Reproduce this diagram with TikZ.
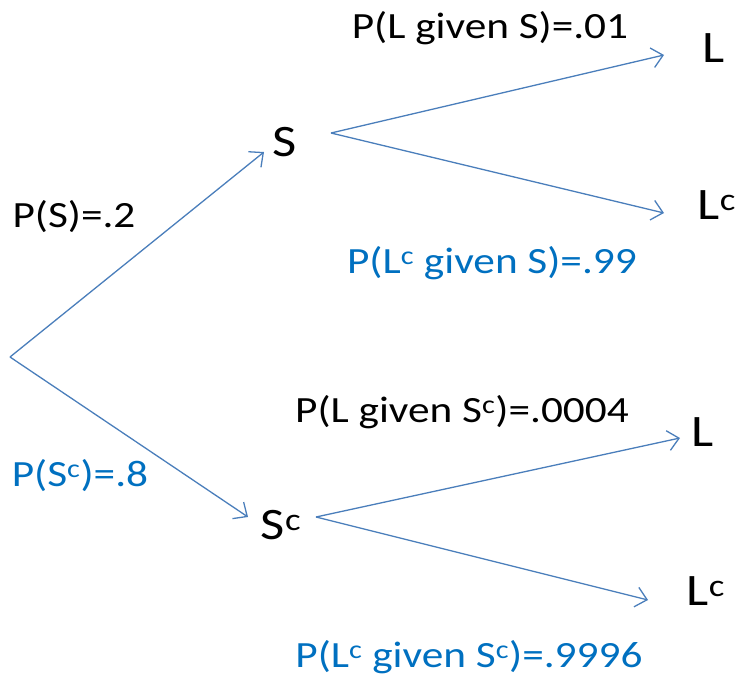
\documentclass[tikz,border=0pt]{standalone}
\usepackage{fontspec}
\setmainfont{Carlito}
\usetikzlibrary{arrows.meta}
\definecolor{linkblue}{HTML}{4A7EBB}
\definecolor{textblue}{HTML}{0070C0}
\newcommand{\wide}[1]{\scalebox{1.17}[1]{#1}}
\begin{document}
\begin{tikzpicture}[x=1pt,y=-1pt,
  lbl/.style={inner sep=0pt,font=\fontsize{37}{40}\selectfont},
  big/.style={inner sep=0pt,font=\fontsize{45}{48}\selectfont},
  blbl/.style={lbl,text=textblue},
  branch/.style={draw=linkblue,line width=1.3pt,-{Straight Barb[length=11pt,width=20pt,line width=1.3pt]}}]
\useasboundingbox (0,0) rectangle (747,691);
% nodes
\coordinate (root) at (10,357);
\node[big] (S) at (285,142) {\wide{S}};
\node[big] (Sc) at (281,525) {\wide{S\textsuperscript{c}}};
\node[big] (L1) at (714,48) {\wide{L}};
\node[big] (L1c) at (717,205) {\wide{L\textsuperscript{c}}};
\node[big] (L2) at (703,432) {\wide{L}};
\node[big] (L2c) at (706,591) {\wide{L\textsuperscript{c}}};
% connector ends
\coordinate (Sin) at (264,152);
\coordinate (Sout) at (331,133);
\coordinate (Scin) at (248,517);
\coordinate (Scout) at (316,517);
\coordinate (L1in) at (664,55);
\coordinate (L1cin) at (664,213);
\coordinate (L2in) at (680,438);
\coordinate (L2cin) at (648,600);
% connectors
\draw[branch] (root) -- (Sin);
\draw[branch] (root) -- (Scin);
\draw[branch] (Sout) -- (L1in);
\draw[branch] (Sout) -- (L1cin);
\draw[branch] (Scout) -- (L2in);
\draw[branch] (Scout) -- (L2cin);
% labels
\node[lbl] (pS) at (74,217) {\wide{P(S)=.2}};
\node[blbl] (pSc) at (80,476) {\wide{P(S\textsuperscript{c})=.8}};
\node[lbl] (pL1) at (490,28) {\wide{P(L given S)=.01}};
\node[blbl] (pL1c) at (492,263) {\wide{P(L\textsuperscript{c} given S)=.99}};
\node[lbl] (pL2) at (462,412) {\wide{P(L given S\textsuperscript{c})=.0004}};
\node[blbl] (pL2c) at (469,657) {\wide{P(L\textsuperscript{c} given S\textsuperscript{c})=.9996}};
\end{tikzpicture}
\end{document}
